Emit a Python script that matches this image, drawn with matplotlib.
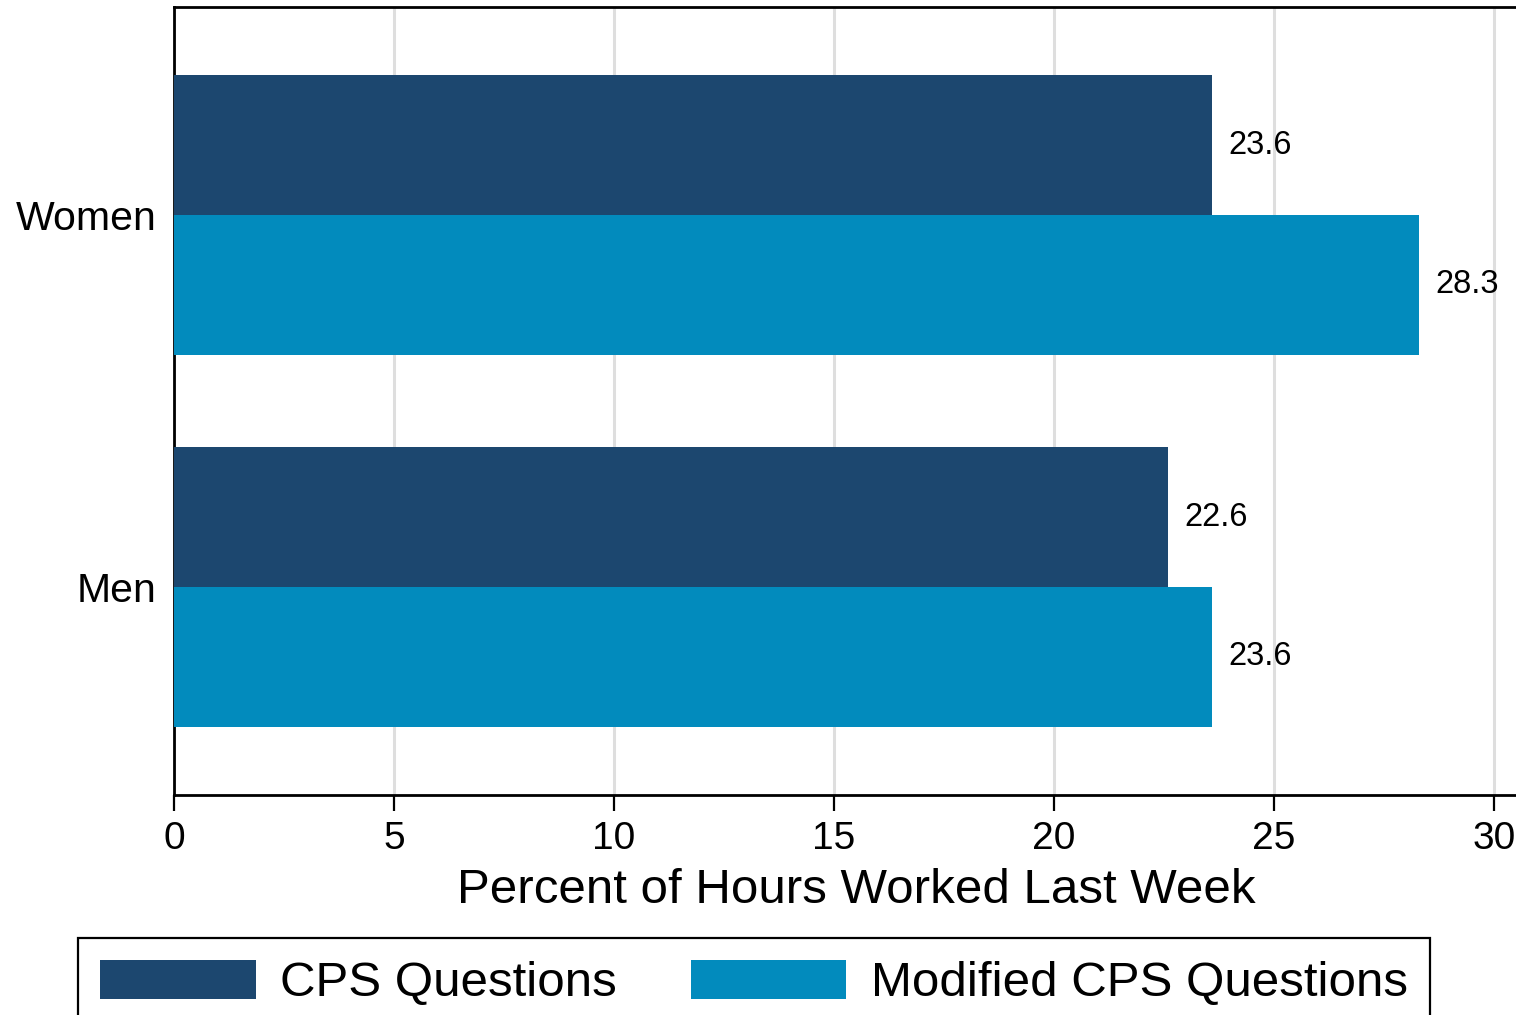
import numpy as np
import matplotlib
matplotlib.use("Agg")
import matplotlib.pyplot as plt

# data
groups = ["Men", "Women"]
cps = [22.6, 23.6]
modified = [23.6, 28.3]
series_names = ["CPS Questions", "Modified CPS Questions"]
xticks = [0, 5, 10, 15, 20, 25, 30]

dark = "#1c476f"
light = "#028bbd"

plt.rcParams["font.family"] = ["Liberation Sans", "DejaVu Sans"]

W, H = 1516, 1015
fig = plt.figure(figsize=(W / 100, H / 100), dpi=100)

px_per_unit = 44.0
xmax = 31
left, bottom_px, top_px = 174, 795, 7
ax = fig.add_axes([left / W, (H - bottom_px) / H,
                   xmax * px_per_unit / W, (bottom_px - top_px) / H])

y = np.arange(len(groups))
h = 0.376
b1 = ax.barh(y + h / 2, cps, height=h, color=dark, label=series_names[0], zorder=3)
b2 = ax.barh(y - h / 2, modified, height=h, color=light, label=series_names[1], zorder=3)
ax.bar_label(b1, fmt="%.1f", padding=11.5, fontsize=23.5)
ax.bar_label(b2, fmt="%.1f", padding=11.5, fontsize=23.5)

ax.set_xlim(0, xmax)
ax.set_ylim(-0.559, 1.559)
ax.set_xticks(xticks)
ax.set_yticks(y)
ax.set_yticklabels(groups)
ax.tick_params(axis="x", labelsize=28, length=11.5, width=1.6, pad=7)
ax.tick_params(axis="y", labelsize=29.5, length=0, pad=12.5)
ax.grid(axis="x", color="#dedede", linewidth=2.2, zorder=0)
ax.set_axisbelow(True)
for s in ["left", "bottom", "top"]:
    ax.spines[s].set_linewidth(2.0)
ax.spines["right"].set_visible(False)

ax.set_xlabel("Percent of Hours Worked Last Week", fontsize=35.5, labelpad=8)

leg = fig.legend(handles=[b1, b2], labels=series_names, ncol=2,
                 loc="upper left", bbox_to_anchor=(78 / W, 1 - 938 / H),
                 borderaxespad=0, fontsize=35.5, handlelength=3.15, handleheight=0.82,
                 handletextpad=0.5, columnspacing=1.5, borderpad=0.45,
                 fancybox=False, edgecolor="black", framealpha=1)
leg.get_frame().set_linewidth(1.6)

fig.savefig("out.png", dpi=100)
